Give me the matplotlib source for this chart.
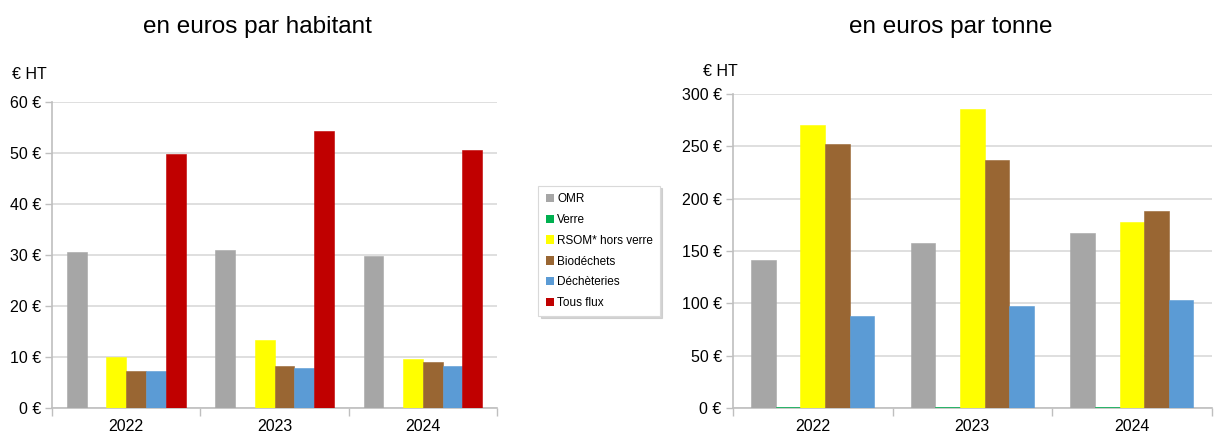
import matplotlib

matplotlib.use("Agg")
import matplotlib.pyplot as plt
from matplotlib.patches import Patch
from matplotlib.ticker import FixedLocator, FuncFormatter, MultipleLocator
import numpy as np

plt.rcParams["font.family"] = ["Liberation Sans Narrow", "Liberation Sans", "DejaVu Sans"]

years = ["2022", "2023", "2024"]
series = ["OMR", "Verre", "RSOM* hors verre", "Biodéchets", "Déchèteries", "Tous flux"]
colors = ["#a6a6a6", "#00b050", "#ffff00", "#996633", "#5b9bd5", "#c00000"]

# coût par habitant (6 flux)
hab_omr = [30.6, 31.0, 29.8]
hab_verre = [0.0, 0.0, 0.0]
hab_rsom = [10.1, 13.4, 9.6]
hab_bio = [7.2, 8.3, 9.0]
hab_dech = [7.3, 7.9, 8.3]
hab_tous = [49.9, 54.3, 50.5]

# coût par tonne (5 flux, pas de "Tous flux")
t_omr = [142, 158, 167]
t_verre = [1.0, 1.0, 1.0]
t_rsom = [271, 286, 178]
t_bio = [252, 237, 188]
t_dech = [88, 98, 103]

GRID = "#d9d9d9"
SPINE = "#bfbfbf"


def draw_groups(ax, data, cols, ymax, step):
    n = len(data)
    w = 1.0 / (n + 1.5)
    x0 = np.arange(len(years)) + 0.75 * w
    for i, (vals, c) in enumerate(zip(data, cols)):
        ax.bar(x0 + (i + 0.5) * w, vals, width=w, color=c,
               edgecolor=c, linewidth=0.4, zorder=3)
    ax.set_xlim(0, len(years))
    ax.set_ylim(0, ymax)
    ax.yaxis.set_major_locator(MultipleLocator(step))
    ax.yaxis.set_major_formatter(FuncFormatter(lambda v, _: f"{v:.0f} €"))
    ax.xaxis.set_major_locator(FixedLocator(range(len(years) + 1)))
    ax.xaxis.set_major_formatter(FuncFormatter(lambda v, _: ""))
    ax.xaxis.set_minor_locator(FixedLocator(np.arange(len(years)) + 0.5))
    ax.set_xticklabels(years, minor=True)
    ax.tick_params(axis="x", which="major", length=6, color=SPINE, width=1)
    ax.tick_params(axis="x", which="minor", length=0, labelsize=11.5, pad=8)
    ax.tick_params(axis="y", length=5, color=SPINE, width=1, labelsize=11.5, pad=3)
    ax.grid(axis="y", color=GRID, linewidth=1.2, zorder=0)
    for s in ("top", "right"):
        ax.spines[s].set_visible(False)
    for s in ("left", "bottom"):
        ax.spines[s].set_color(SPINE)
        ax.spines[s].set_linewidth(1.2)


fig = plt.figure(figsize=(12.21, 4.36), dpi=100)

ax1 = fig.add_axes([0.0426, 0.064, 0.3645, 0.702])
draw_groups(ax1, [hab_omr, hab_verre, hab_rsom, hab_bio, hab_dech, hab_tous],
            colors, 60, 10)
fig.text(0.211, 0.937, "en euros par habitant", ha="center", va="center", fontsize=17.5)
fig.text(0.010, 0.828, "€ HT", ha="left", va="center", fontsize=11.5)

ax2 = fig.add_axes([0.6003, 0.064, 0.392, 0.720])
draw_groups(ax2, [t_omr, t_verre, t_rsom, t_bio, t_dech], colors[:5], 300, 50)
fig.text(0.779, 0.937, "en euros par tonne", ha="center", va="center", fontsize=17.5)
fig.text(0.576, 0.836, "€ HT", ha="left", va="center", fontsize=11.5)

handles = [Patch(facecolor=c, edgecolor="none") for c in colors]
leg = fig.legend(handles, series, loc="center left", bbox_to_anchor=(0.441, 0.424),
                 fontsize=8.5, frameon=True, fancybox=False,
                 shadow={"ox": 1.5, "oy": -1.5, "color": "#c8c8c8", "alpha": 0.8},
                 handlelength=0.7, handleheight=0.7, handletextpad=0.3,
                 labelspacing=0.75, borderpad=0.6, borderaxespad=0)
leg.get_frame().set_edgecolor("#d9d9d9")
leg.get_frame().set_linewidth(0.8)

fig.savefig("out.png", dpi=100)
